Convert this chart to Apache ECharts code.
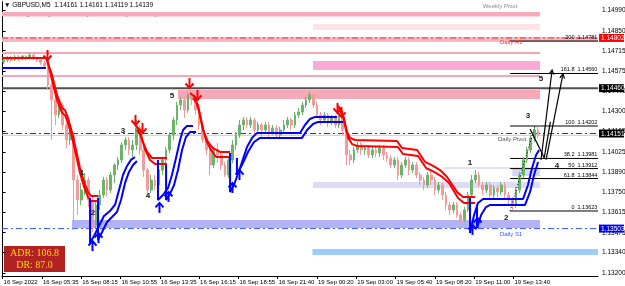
<!DOCTYPE html>
<html><head><meta charset="utf-8">
<script src="https://cdn.jsdelivr.net/npm/echarts@6/dist/echarts.min.js"></script>
<style>html,body{margin:0;padding:0;background:#fff}#c{width:625px;height:286px}</style>
</head><body><div id="c"></div>
<script>
// ---------- DATA (prices in points = 1e-5 above 1.13000) ----------
const BASE = 1.13;
const P = v => +(BASE + v / 100000).toFixed(5);

// 15-minute candles (3 x M5 bars each): [open, close, low, high]
const candles = [
[1638,1652,1625,1666],[1652,1666,1638,1679],[1666,1652,1638,1679],[1652,1673,1645,1686],[1673,1659,1645,1686],
[1659,1679,1652,1686],[1679,1666,1652,1686],[1666,1686,1659,1700],[1686,1666,1652,1693],[1666,1652,1638,1673],
[1652,1632,1618,1666],[1632,1611,1598,1645],[1611,1482,1448,1625],[1482,1380,1107,1495],[1380,1277,1209,1400],
[1277,1345,1257,1366],[1345,1209,1175,1359],[1209,1107,1052,1230],[1107,1141,1073,1189],[1141,834,494,1161],
[834,698,596,868],[698,766,664,814],[766,834,732,882],[834,698,650,855],[698,528,480,718],
[528,664,507,698],[664,732,630,766],[732,834,712,855],[834,766,718,855],[766,868,746,889],
[868,936,814,950],[936,971,902,991],[971,1073,950,1093],[1073,1107,1039,1127],[1107,1039,1005,1127],
[1039,1073,991,1107],[1073,1189,1039,1243],[1189,1039,1005,1209],[1039,902,855,1059],[902,766,718,916],
[766,834,746,868],[834,800,766,868],[800,902,780,923],[902,971,868,991],[971,1039,936,1059],
[1039,1141,1018,1161],[1141,1243,1107,1264],[1243,1345,1209,1366],[1345,1380,1311,1400],[1380,1311,1257,1400],
[1311,1414,1291,1434],[1414,1380,1345,1434],[1380,1311,1277,1400],[1311,1209,1175,1332],[1209,1107,1086,1230],
[1107,1039,1005,1127],[1039,936,868,1059],[936,1039,916,1059],[1039,1005,950,1086],[1005,936,902,1025],
[936,868,855,957],[868,971,848,991],[971,1073,950,1107],[1073,1141,1039,1161],[1141,1209,1121,1243],
[1209,1243,1175,1264],[1243,1209,1189,1264],[1209,1243,1189,1264],[1243,1175,1141,1257],[1175,1209,1155,1230],
[1209,1175,1127,1223],[1175,1209,1155,1230],[1209,1161,1121,1230],[1161,1189,1141,1209],[1189,1141,1121,1209],
[1141,1175,1121,1196],[1175,1209,1155,1243],[1209,1243,1189,1264],[1243,1209,1175,1257],[1209,1277,1189,1298],
[1277,1298,1257,1325],[1298,1345,1277,1366],[1345,1380,1325,1400],[1380,1414,1359,1434],[1414,1345,1325,1427],
[1345,1277,1257,1366],[1277,1243,1209,1298],[1243,1277,1230,1298],[1277,1230,1196,1291],[1230,1257,1209,1277],
[1257,1209,1189,1277],[1209,1277,1189,1332],[1277,1175,1141,1298],[1175,1005,936,1196],[1005,971,936,1039],
[971,1039,950,1059],[1039,1073,1018,1093],[1073,1039,1005,1093],[1039,1052,1005,1073],[1052,1005,984,1073],
[1005,1039,984,1059],[1039,1018,991,1059],[1018,1052,991,1073],[1052,1005,971,1073],[1005,984,957,1025],
[984,936,916,1005],[936,971,916,991],[971,868,834,991],[868,936,848,957],[936,971,916,991],
[971,902,868,991],[902,936,882,957],[936,868,848,957],[868,834,800,889],[834,800,766,855],
[800,868,780,889],[868,834,800,889],[834,766,732,855],[766,800,746,821],[800,732,698,821],
[732,664,630,753],[664,630,596,684],[630,664,609,684],[664,596,575,684],[596,562,541,616],
[562,630,548,650],[630,732,616,753],[732,834,712,868],[834,868,814,902],[868,800,780,889],
[800,766,732,821],[766,800,746,821],[800,732,712,821],[732,780,712,800],[780,753,718,800],
[753,800,732,821],[800,732,712,821],[732,698,664,753],[698,664,630,718],[664,766,644,787],
[766,868,746,889],[868,971,848,991],[971,1039,950,1059],[1039,1121,1018,1141],[1121,1175,1093,1196],
[1175,1139,1119,1196]
];

// time axis (index of M5 bar from 16 Sep 02:55)
const timeTickIdx = [0,32,64,96,128,160,192,224,256,288,320,352,384,416];
const timeTickLabels = ['16 Sep 2022','16 Sep 05:35','16 Sep 08:15','16 Sep 10:55','16 Sep 13:35','16 Sep 16:15','16 Sep 18:55','16 Sep 21:40','19 Sep 00:20','19 Sep 03:00','19 Sep 05:40','19 Sep 08:20','19 Sep 11:00','19 Sep 13:40'];
const priceTicks = [1.14990,1.14850,1.14715,1.14575,1.14440,1.14300,1.14165,1.14025,1.13890,1.13750,1.13615,1.13475,1.13340,1.13200];
const priceTags = [1.14802,1.14460,1.14151,1.13503];

// channel lines [barIndex, points]
const redUpper1 = [[-0.5,1666],[35.3,1666],[36.1,1666],[40.2,1550],[44.3,1414],[48.4,1325],[50.8,1311],[53.2,1257],[56.5,1161],[59.8,1039],[63,916],[66.3,821],[69.5,753],[72,725],[77.7,725]];
const redLower1 = [[36.1,1666],[40.2,1516],[44.3,1380],[48.4,1291],[50.8,1277],[53.2,1223],[56.5,1127],[59.8,1005],[63,882],[66.3,787],[69.5,718],[72,691],[77.7,691]];
const redUpper2 = [[107.8,1209],[110.2,1189],[113.5,1107],[117.6,1025],[121.7,984],[133.9,984]];
const redLower2 = [[109.4,1175],[112.7,1141],[116.1,1039],[120,971],[124.1,943],[133.9,943]];
const redUpper3 = [[152.6,1427],[156.7,1400],[160.7,1277],[163.2,1175],[167.2,1093],[171.3,1052],[177,1025],[185.2,1025]];
const redLower3 = [[155,1393],[159.1,1345],[162.4,1209],[165.6,1107],[169.7,1039],[173.8,991],[185.2,991]];
const redUpper4 = [[273.1,1339],[276.4,1298],[279.6,1175],[282.9,1121],[287,1107],[321.1,1100],[325.2,1052],[337.5,1039],[344,957],[350.5,930],[356.2,902],[361.9,855],[370,753],[374.9,718],[384.7,718]];
const redLower4 = [[274.8,1311],[278,1257],[281.3,1121],[284.5,1079],[288.6,1066],[321.9,1059],[326,1011],[338.3,998],[344.8,916],[351.3,889],[357,861],[363.5,814],[370.8,712],[375.7,678],[384.7,678]];
const blue1 = [[-0.5,1598],[35.3,1598]];
const blueUpper2 = [[71.2,712],[71.2,405],[74.4,453],[78.5,521],[82.5,589],[87.4,623],[91.5,664],[94.8,766],[98,868],[101.3,930],[104.5,971],[107.8,991]];
const blueLower2 = [[77.7,712],[77.7,425],[81,480],[85,548],[89.1,582],[93.1,616],[96.4,698],[99.7,814],[102.9,889],[106.2,936],[109.4,964]];
const blueUpper3 = [[126.5,971],[126.5,698],[130.6,732],[134.7,780],[137.9,868],[141.2,984],[144.5,1107],[146.9,1175],[150.1,1202],[155,1202]];
const blueLower3 = [[133.1,936],[133.1,698],[136.3,739],[139.6,800],[142.8,902],[146.1,1039],[149.3,1127],[152.6,1161],[157.5,1161]];
const blueUpper4 = [[185.2,1018],[185.2,753],[188.4,800],[193.3,916],[199,1059],[203.1,1121],[207.2,1155],[242.2,1155],[246.2,1209],[250.3,1250],[254.4,1264],[272.3,1264]];
const blueLower4 = [[190.8,984],[190.8,875],[194.9,936],[199.8,1025],[204.7,1093],[209.6,1121],[243.8,1121],[247.9,1175],[252.8,1216],[256.8,1230],[277.2,1230]];
const blueUpper5 = [[380.6,712],[380.6,473],[383.9,596],[387.1,678],[391.2,705],[423.8,705],[427.8,800],[431.1,916],[434.4,1005],[436.8,1039]];
const blueLower5 = [[386.3,664],[386.3,507],[389.6,596],[393.6,650],[396.9,664],[425.4,664],[429.5,753],[432.7,868],[436,957]];

// signal arrows (tip) [barIndex, points]
const sellArrows = [[36.1,1652],[107.8,1209],[113.5,1155],[152.1,1461],[158.3,1380],[272.3,1291],[275.6,1264]];
const buyArrows = [[72.8,418],[77.7,472],[127.4,678],[134.7,753],[186.8,814],[192.5,902],[382.2,528],[386.3,575]];

// wave counts
const waveLabels = ['1','2','3','4','5','1','2','3','4','5'];
const wavePos = [[64.6,882],[73.6,609],[98,1168],[118.4,725],[137.9,1407],[380.6,950],[410,575],[427.8,1270],[451.4,930],[438.4,1523]];

// zones [startIdx, endIdx, highPts, lowPts]
const zones = [
 [-0.5,437.6,1979,1949],
 [252.8,437.6,1897,1857],
 [-0.5,484.8,1809,1775],
 [-0.5,437.6,1707,1693],
 [252.8,437.6,1645,1584],
 [-0.5,437.6,1550,1536],
 [142.8,437.6,1448,1386],
 [252.8,437.6,821,780],
 [358.6,437.6,919,913],
 [415,437.6,909,861],
 [56.5,437.6,562,507],
 [252.3,484.8,364,323]
];
const zoneColors = ['#f6aabb','#fde2e6','#f8b8c2','#f5a6b5','#f8abd6','#f5a6b5','#f6a8b6','#dcdcf8','#c4c4f2','#d6d6f8','#b2b2f4','#9ccdff'];

// Fibonacci levels
const fibPrices = [1.14781,1.14560,1.14202,1.13981,1.13912,1.13844,1.13623];
const fibNames = ['200','161.8','100','38.2','50','61.8','0'];
// projection lines [x0,p0],[x1,p1]
const projLines = [[438.4,971],[447.4,1584],[442.5,971],[456.3,1557],[429.5,1182],[441,985],[441,985],[446,1230]];

// ---------- CHART ----------
const chart = echarts.init(document.getElementById('c'), null, {renderer:'canvas'});
const FONT = 'Liberation Sans, Arial, sans-serif';
const conv = arr => arr.map(d => [d[0], P(d[1])]);
const lineS = (data, color, w, z) => ({type:'line', data: conv(data), showSymbol:false, symbol:'none', lineStyle:{color, width:w}, z: z||5, silent:true, animation:false});
const hline = (price, x0, x1, color, w, type, z) => ({type:'line', data:[[x0,price],[x1,price]], showSymbol:false, symbol:'none', lineStyle:{color, width:w, type}, z: z||3, silent:true, animation:false});

function arrowRender(color, up){
  return function(params, api){
    const p = api.coord([api.value(0), api.value(1)]);
    const x = Math.round(p[0]) + 0.5, y = p[1];
    const tail = up ? y + 10 : y - 10, head = up ? y + 4.5 : y - 4.5;
    return {type:'group', children:[
      {type:'line', shape:{x1:x,y1:tail,x2:x,y2:y}, style:{stroke:color,lineWidth:2}},
      {type:'polyline', shape:{points:[[x-4,head],[x,y],[x+4,head]]}, style:{stroke:color,lineWidth:2,fill:null}}
    ]};
  };
}

const series = [];
series.push({type:'custom', z:1, silent:true, data: zones.map(z=>[z[0],z[1],P(z[2]),P(z[3])]), encode:{x:[0,1],y:[2,3]},
  renderItem:(params, api)=>{
    const a = api.coord([api.value(0), api.value(2)]), b = api.coord([api.value(1), api.value(3)]);
    return {type:'rect', shape:{x:a[0], y:a[1], width:b[0]-a[0], height:b[1]-a[1]}, style:{fill: zoneColors[params.dataIndex]}};
  }});
series.push(hline(1.14802, -0.5, 484.8, '#ff2020', 1, [6,3,2,3], 3));
series.push(hline(1.14460, -0.5, 484.8, '#505050', 2, 'solid', 3));
series.push(hline(1.14139, -0.5, 484.8, '#c8c8c8', 1, 'solid', 3));
series.push(hline(1.14151, -0.5, 484.8, '#404040', 1, [6,3,2,3], 3));
series.push(hline(1.13503, -0.5, 484.8, '#3355ff', 1, [6,3,2,3], 3));
fibPrices.forEach(p => series.push(hline(p, 413.2, 484.8, '#000000', 1, 'solid', 3)));
series.push({type:'candlestick', z:4, silent:true, barWidth:2.2, encode:{x:0,y:[1,2,3,4]},
  data: candles.map((c,i)=>[3*i+1, P(c[0]), P(c[1]), P(c[2]), P(c[3])]),
  itemStyle:{color:'#6ab56a', color0:'#f39a9a', borderColor:'#6ab56a', borderColor0:'#f39a9a', borderWidth:1}});
[redUpper1, redLower1, redUpper2, redLower2, redUpper3, redLower3, redUpper4, redLower4].forEach(d=>series.push(lineS(d,'#ff0000',2,6)));
[blue1, blueUpper2, blueLower2, blueUpper3, blueLower3, blueUpper4, blueLower4, blueUpper5, blueLower5].forEach(d=>series.push(lineS(d,'#0000ff',2,6)));
series.push({type:'line', data:[[413.2,1.13623],[433.5,1.14202]], showSymbol:false, symbol:'none', lineStyle:{color:'#000', width:1, type:[1,2]}, z:6, silent:true});
series.push({type:'custom', z:7, silent:true, data: projLines.map((d,i)=>i%2===0?[d[0],P(d[1]),projLines[i+1][0],P(projLines[i+1][1])]:null).filter(Boolean), encode:{x:[0,2],y:[1,3]},
  renderItem:(params, api)=>{
    const a = api.coord([api.value(0), api.value(1)]), b = api.coord([api.value(2), api.value(3)]);
    const ch = [{type:'line', shape:{x1:a[0],y1:a[1],x2:b[0],y2:b[1]}, style:{stroke:'#000',lineWidth:1.2}}];
    if (params.dataIndex < 2) {
      const ang = Math.atan2(b[1]-a[1], b[0]-a[0]);
      const l = 5;
      ch.push({type:'polyline', shape:{points:[[b[0]-l*Math.cos(ang-0.5), b[1]-l*Math.sin(ang-0.5)],[b[0],b[1]],[b[0]-l*Math.cos(ang+0.5), b[1]-l*Math.sin(ang+0.5)]]}, style:{stroke:'#000',lineWidth:1.2,fill:null}});
    }
    return {type:'group', children:ch};
  }});
series.push({type:'custom', z:8, silent:true, data: conv(sellArrows), encode:{x:0,y:1}, renderItem: arrowRender('#ff0000', false)});
series.push({type:'custom', z:8, silent:true, data: conv(buyArrows), encode:{x:0,y:1}, renderItem: arrowRender('#0000ff', true)});
series.push({type:'custom', z:9, silent:true, data: conv(wavePos), encode:{x:0,y:1},
  renderItem:(params, api)=>{
    const p = api.coord([api.value(0), api.value(1)]);
    return {type:'text', x:p[0], y:p[1], style:{text: waveLabels[params.dataIndex], fill:'#1a1a1a', font:'bold 8px '+FONT, align:'center', verticalAlign:'middle'}};
  }});
series.push({type:'custom', z:9, silent:true, data: fibPrices.map(p=>[484.3,p]), encode:{x:0,y:1},
  renderItem:(params, api)=>{
    const p = api.coord([api.value(0), api.value(1)]);
    return {type:'text', x:p[0], y:p[1]-0.5, style:{text: fibNames[params.dataIndex]+'  '+api.value(1).toFixed(5), fill:'#000', font:'5.5px '+FONT, align:'right', verticalAlign:'bottom'}};
  }});
const levelNames = ['Daily R1','Daily Pivot','Daily S1','Weekly Pivot'];
const levelNameColors = ['#ff3a3a','#555555','#3355ff','#8a8a8a'];
const levelNamePos = [[405,1.14770],[403.4,1.14110],[405,1.13467],[391,1.15015]];
series.push({type:'custom', z:9, silent:true, data: levelNamePos, encode:{x:0,y:1},
  renderItem:(params, api)=>{
    const p = api.coord([api.value(0), api.value(1)]);
    return {type:'text', x:p[0], y:p[1], style:{text: levelNames[params.dataIndex], fill: levelNameColors[params.dataIndex], font:'6px '+FONT, align:'left', verticalAlign:'middle'}};
  }});
const tagColors = ['#ff0000','#000000','#000000','#0000ff'];
series.push({type:'custom', z:20, silent:true, clip:false, data: priceTags.map(p=>[484.8,p]), encode:{x:0,y:1},
  renderItem:(params, api)=>{
    const p = api.coord([api.value(0), api.value(1)]);
    const x0 = params.coordSys.x + params.coordSys.width + 1;
    return {type:'group', children:[
      {type:'rect', shape:{x:x0, y:p[1]-4, width:25, height:8}, style:{fill: tagColors[params.dataIndex]}},
      {type:'text', x:x0+2, y:p[1]+0.5, style:{text: api.value(1).toFixed(5), fill:'#fff', font:'6.5px '+FONT, align:'left', verticalAlign:'middle'}}
    ]};
  }});

const yMin = 1.13180, yMax = 1.15047;
chart.setOption({
  animation:false,
  backgroundColor:'#ffffff',
  grid:{left:2, right:27, top:2, bottom:10, outerBoundsMode:'none'},
  xAxis:{type:'value', min:-0.5, max:484.8,
    axisLine:{show:true, lineStyle:{color:'#000', width:1}},
    axisTick:{show:true, customValues: timeTickIdx, length:3, lineStyle:{color:'#000'}},
    axisLabel:{show:true, customValues: timeTickIdx, formatter: v => timeTickLabels[timeTickIdx.indexOf(v)] || '', align:'left', margin:3, fontSize:6, fontFamily:FONT, color:'#000', padding:[0,0,0,1]},
    splitLine:{show:false}},
  yAxis:[{type:'value', position:'right', min:yMin, max:yMax, scale:true,
    axisLine:{show:true, lineStyle:{color:'#000', width:1}},
    axisTick:{show:true, customValues: priceTicks, length:3, lineStyle:{color:'#000'}},
    axisLabel:{show:true, customValues: priceTicks, formatter: v => v.toFixed(5), margin:4, fontSize:6.5, fontFamily:FONT, color:'#000'},
    splitLine:{show:false}},
   {type:'value', position:'left', min:yMin, max:yMax, axisLine:{show:true, lineStyle:{color:'#000'}}, axisTick:{show:false}, axisLabel:{show:false}, splitLine:{show:false}}],
  series: series,
  graphic:[
    {type:'text', left:4, top:2, style:{text:'\u25BC GBPUSD,M5  1.14161 1.14161 1.14119 1.14139', fill:'#000', font:'6.5px '+FONT}},
    {type:'text', left:4, top:11.5, style:{text:'Not using Sunday Data for Daily Pivots.  Today is Monday', fill:'#222', font:'6px '+FONT}},
    {type:'group', left:4, top:246, children:[
      {type:'rect', shape:{x:0,y:0,width:61,height:26}, style:{fill:'#b22222'}},
      {type:'text', x:30.5, y:7, style:{text:'ADR: 106.8', fill:'#ffd700', font:'10px Liberation Serif, serif', align:'center', verticalAlign:'middle'}},
      {type:'text', x:30.5, y:19, style:{text:'DR: 87.0', fill:'#ffd700', font:'10px Liberation Serif, serif', align:'center', verticalAlign:'middle'}}
    ]}
  ]
});
</script>
</body></html>
